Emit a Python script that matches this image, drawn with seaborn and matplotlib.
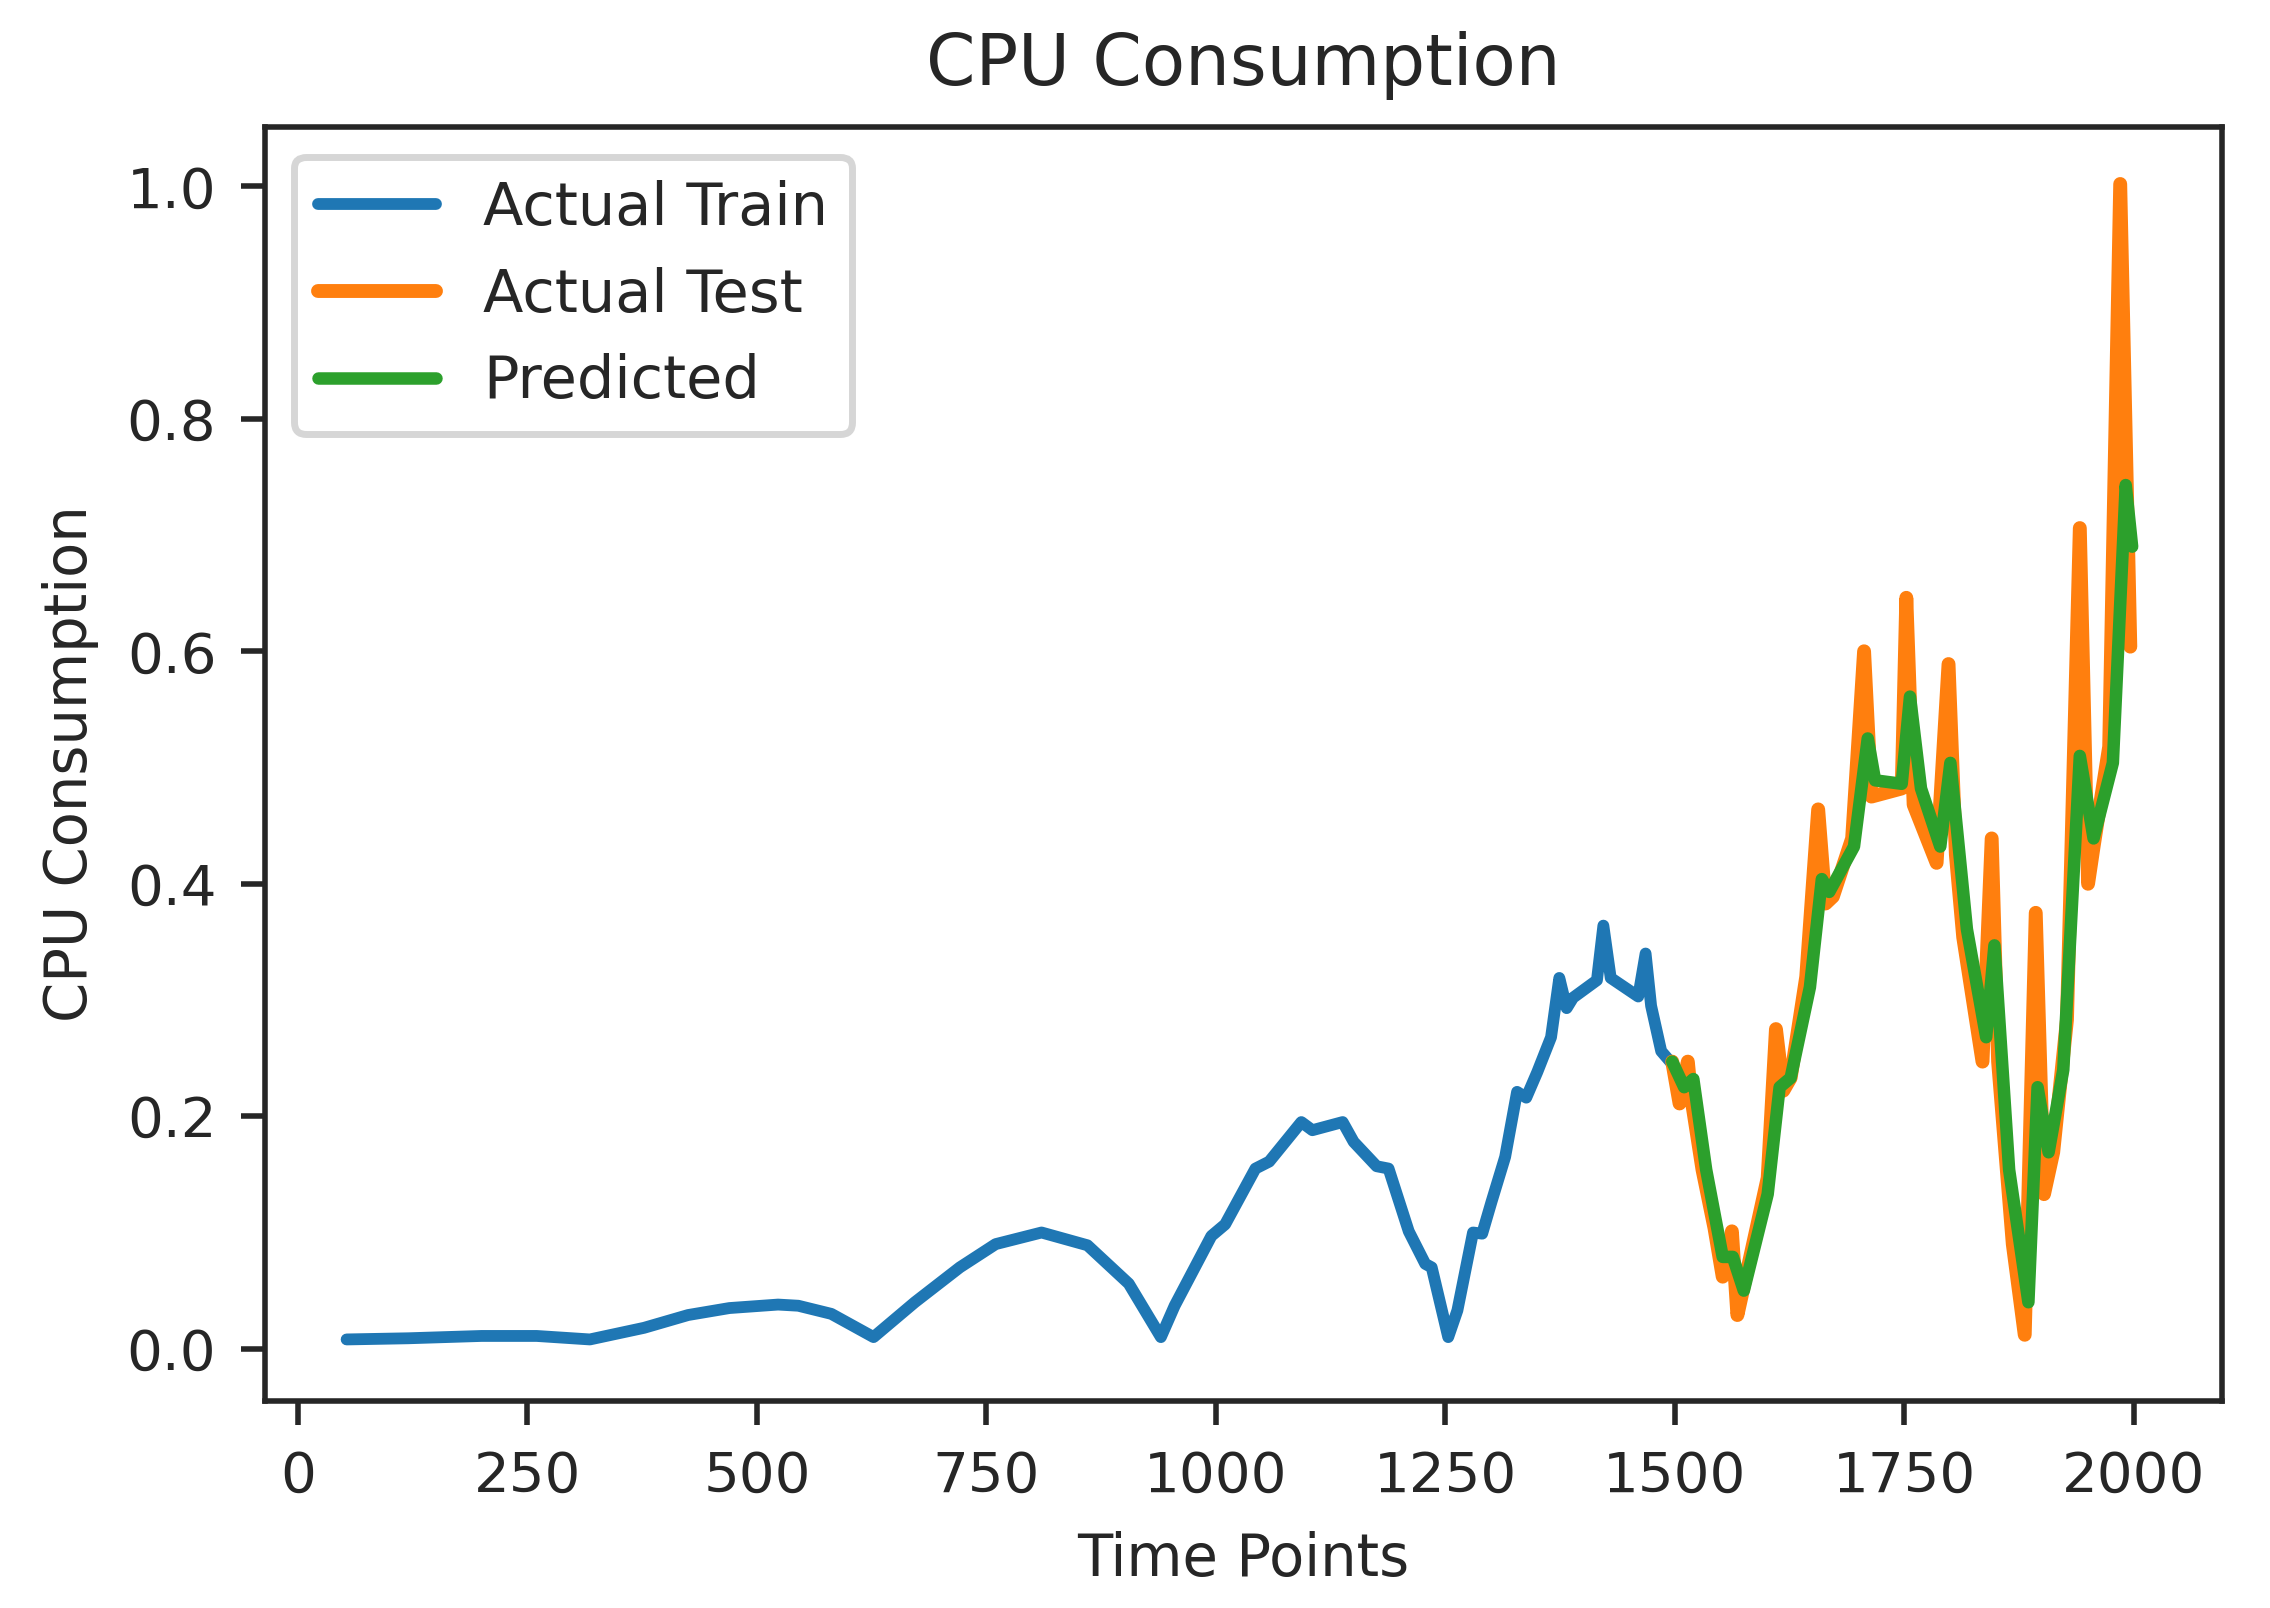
import numpy as np
import pandas as pd
import seaborn as sns
import matplotlib.pyplot as plt

# ---- data ----
train_x = [53, 120, 200, 260, 318, 377, 425, 470, 523, 545, 581, 627, 672, 721, 760, 810,
           860, 905, 940, 955, 995, 1010, 1043, 1058, 1093, 1105, 1138, 1150, 1175, 1188,
           1210, 1228, 1235, 1253, 1263, 1280, 1290, 1300, 1315, 1328, 1338, 1350, 1365,
           1374, 1382, 1389, 1415, 1422, 1430, 1460, 1468, 1474, 1485, 1497]
train_y = [0.008, 0.009, 0.011, 0.011, 0.008, 0.018, 0.029, 0.035, 0.038, 0.037, 0.030, 0.010,
           0.040, 0.070, 0.090, 0.100, 0.089, 0.056, 0.010, 0.037, 0.097, 0.107, 0.155, 0.161,
           0.195, 0.188, 0.195, 0.178, 0.157, 0.155, 0.101, 0.073, 0.070, 0.010, 0.033, 0.100,
           0.099, 0.126, 0.165, 0.221, 0.216, 0.238, 0.268, 0.319, 0.293, 0.302, 0.317, 0.364,
           0.319, 0.303, 0.340, 0.295, 0.256, 0.245]

test_x = [1497, 1505, 1514, 1518, 1530, 1543, 1552, 1562, 1568, 1575, 1589, 1601, 1610, 1618,
          1626, 1643, 1656, 1664, 1672, 1693, 1706, 1714, 1747, 1752, 1760, 1785, 1798, 1806,
          1814, 1835, 1845, 1852, 1868, 1881, 1893, 1902, 1912, 1927, 1941, 1950, 1956, 1973,
          1985, 1996]
test_y = [0.247, 0.211, 0.247, 0.215, 0.154, 0.104, 0.062, 0.101, 0.029, 0.054, 0.104, 0.147,
          0.275, 0.222, 0.233, 0.320, 0.464, 0.383, 0.389, 0.439, 0.600, 0.475, 0.482, 0.646,
          0.468, 0.418, 0.589, 0.425, 0.354, 0.247, 0.439, 0.247, 0.090, 0.012, 0.375, 0.133,
          0.169, 0.283, 0.706, 0.400, 0.432, 0.518, 1.002, 0.604]

pred_x = [1497, 1510, 1520, 1534, 1552, 1563, 1575, 1601, 1614, 1626, 1647, 1660, 1668, 1695,
          1710, 1718, 1747, 1756, 1768, 1789, 1800, 1818, 1839, 1848, 1864, 1885, 1895, 1907,
          1923, 1941, 1956, 1977, 1991, 1998]
pred_y = [0.247, 0.225, 0.232, 0.154, 0.079, 0.079, 0.050, 0.133, 0.225, 0.233, 0.311, 0.404,
          0.393, 0.432, 0.525, 0.489, 0.486, 0.561, 0.482, 0.432, 0.504, 0.361, 0.268, 0.347,
          0.154, 0.040, 0.225, 0.169, 0.240, 0.510, 0.439, 0.504, 0.743, 0.690]

sns.set_style("ticks")
plt.rcParams['font.family'] = ['DejaVu Sans']
plt.rcParams['font.size'] = 8.1

fig = plt.figure(figsize=(4.54, 3.216), dpi=500)
ax = fig.add_axes([0.1167, 0.1287, 0.8622, 0.7923])

sns.lineplot(x=train_x, y=train_y, ax=ax, color="#1f77b4", linewidth=1.7,
             sort=False, estimator=None, label="Actual Train")
sns.lineplot(x=test_x, y=test_y, ax=ax, color="#ff7f0e", linewidth=2.0,
             sort=False, estimator=None, label="Actual Test")
sns.lineplot(x=pred_x, y=pred_y, ax=ax, color="#2ca02c", linewidth=1.8,
             sort=False, estimator=None, label="Predicted")

ax.set_xlim(-36, 2096)
ax.set_ylim(-0.045, 1.051)
ax.set_xticks([0, 250, 500, 750, 1000, 1250, 1500, 1750, 2000])
ax.set_yticks([0.0, 0.2, 0.4, 0.6, 0.8, 1.0])
ax.set_title("CPU Consumption", fontsize=10.2)
ax.set_xlabel("Time Points", fontsize=8.3)
ax.set_ylabel("CPU Consumption", fontsize=8.3)
ax.legend(loc="upper left", handlelength=2.0, fontsize=8.5, frameon=True)

fig.savefig("out.png", dpi=500)
